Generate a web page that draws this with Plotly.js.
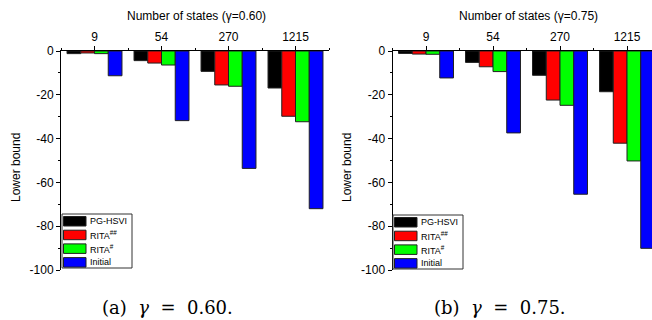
<!DOCTYPE html>
<html>
<head>
<meta charset="utf-8">
<script src="https://cdn.plot.ly/plotly-3.0.1.min.js"></script>
<style>html,body{margin:0;padding:0;background:#fff}#chart{width:652px;height:320px}</style>
</head>
<body>
<div id="chart"></div>
<script>
// ---- data ----
const categories = ['9', '54', '270', '1215'];
const seriesNames = ['PG-HSVI', 'RITA<sup>##</sup>', 'RITA<sup>#</sup>', 'Initial'];
const seriesColors = ['#000000', '#ff0000', '#00ff00', '#0000ff'];
// gamma = 0.60
const pghsvi060 = [-1.2, -4.4, -9.3, -16.9];
const ritaHH060 = [-0.9, -5.5, -15.5, -29.8];
const ritaH060  = [-1.2, -6.4, -16.1, -32.3];
const initial060 = [-11.3, -31.8, -53.6, -72.0];
// gamma = 0.75
const pghsvi075 = [-1.1, -5.2, -11.1, -18.6];
const ritaHH075 = [-1.4, -7.2, -22.4, -42.1];
const ritaH075  = [-1.5, -9.4, -24.8, -50.2];
const initial075 = [-12.3, -37.4, -65.4, -90.1];
const yTicks = [0, -20, -40, -60, -80, -100];
const topTitles = ['Number of states (γ=0.60)', 'Number of states (γ=0.75)'];
const captions = ['(a)\u00a0 <i>γ</i> \u00a0= \u00a00.60.', '(b)\u00a0 <i>γ</i> \u00a0= \u00a00.75.'];
const yTitle = 'Lower bound';

const W = 652, H = 320;
const px = x => x / W, py = y => 1 - y / H;
const idx = categories.map((c, i) => i);

const panels = [
  {series: [pghsvi060, ritaHH060, ritaH060, initial060], xa: 'x', ya: 'y'},
  {series: [pghsvi075, ritaHH075, ritaH075, initial075], xa: 'x2', ya: 'y2'}
];
const traces = [];
panels.forEach(p => {
  p.series.forEach((vals, k) => {
    traces.push({
      type: 'bar', x: idx, y: vals, name: seriesNames[k],
      xaxis: p.xa, yaxis: p.ya, showlegend: false,
      marker: {color: seriesColors[k], line: {color: '#202020', width: 1}},
      hoverinfo: 'skip'
    });
  });
});

const font = {family: 'Liberation Sans, Arial, sans-serif', size: 12, color: '#000'};
function xAxis(domain, range, anchor) {
  return {
    domain: domain, range: range, anchor: anchor, side: 'top',
    tickvals: idx, ticktext: categories,
    showline: true, linecolor: '#000', linewidth: 1,
    ticks: 'outside', ticklen: 4, tickcolor: '#000', tickwidth: 1,
    minor: {tick0: 0.5, dtick: 1, ticks: 'outside', ticklen: 2, tickcolor: '#000'},
    showgrid: false, zeroline: false, fixedrange: true,
    tickfont: font
  };
}
function yAxis(anchor) {
  return {
    domain: [py(270), py(51)], range: [-100, 0], anchor: anchor,
    tickvals: yTicks, ticktext: yTicks.map(String),
    showline: true, linecolor: '#000', linewidth: 1,
    ticks: 'outside', ticklen: 4, tickcolor: '#000', tickwidth: 1,
    minor: {dtick: 10, tick0: 0, ticks: 'outside', ticklen: 2, tickcolor: '#000'},
    showgrid: false, zeroline: false, fixedrange: true,
    tickfont: font
  };
}

const shapes = [];
const annotations = [];
// top titles
[196, 528].forEach((cx, i) => {
  annotations.push({text: topTitles[i], x: px(cx), y: py(16), xref: 'paper', yref: 'paper',
    showarrow: false, font: font, xanchor: 'center', yanchor: 'middle'});
});
// y titles
[16, 347].forEach(cx => {
  annotations.push({text: yTitle, x: px(cx), y: py(168), xref: 'paper', yref: 'paper',
    showarrow: false, font: font, textangle: -90, xanchor: 'center', yanchor: 'middle'});
});
// captions
[167, 500].forEach((cx, i) => {
  annotations.push({text: captions[i], x: px(cx), y: py(307), xref: 'paper', yref: 'paper',
    showarrow: false, font: {family: 'DejaVu Serif, serif', size: 18, color: '#000'},
    xanchor: 'center', yanchor: 'middle'});
});
// legends (drawn from series names/colors)
[[62, 214], [393, 215]].forEach(([lx, ly]) => {
  shapes.push({type: 'rect', xref: 'paper', yref: 'paper', x0: px(lx), x1: px(lx + 70),
    y0: py(ly), y1: py(ly + 54), line: {color: '#333', width: 1}, fillcolor: '#fff', layer: 'above'});
  seriesNames.forEach((n, k) => {
    const top = ly + 2.5 + k * 13.7;
    shapes.push({type: 'rect', xref: 'paper', yref: 'paper', x0: px(lx + 1.5), x1: px(lx + 24),
      y0: py(top), y1: py(top + 9.5), line: {color: '#202020', width: 1}, fillcolor: seriesColors[k], layer: 'above'});
    annotations.push({text: n, x: px(lx + 26), y: py(top + 4.8), xref: 'paper', yref: 'paper',
      showarrow: false, xanchor: 'left', yanchor: 'middle',
      font: {family: 'Liberation Sans, Arial, sans-serif', size: 9, color: '#000'}});
  });
});

const layout = {
  width: W, height: H, margin: {l: 0, r: 0, t: 0, b: 0},
  paper_bgcolor: '#fff', plot_bgcolor: '#fff',
  barmode: 'group', bargap: 0.18, bargroupgap: 0,
  font: font, showlegend: false,
  xaxis: xAxis([px(61), px(329)], [-0.5, 3.5], 'y'),
  yaxis: yAxis('x'),
  xaxis2: xAxis([px(392.5), 1], [-0.5, 3.373], 'y2'),
  yaxis2: yAxis('x2'),
  shapes: shapes, annotations: annotations
};
Plotly.newPlot('chart', traces, layout, {staticPlot: true});
</script>
</body>
</html>
